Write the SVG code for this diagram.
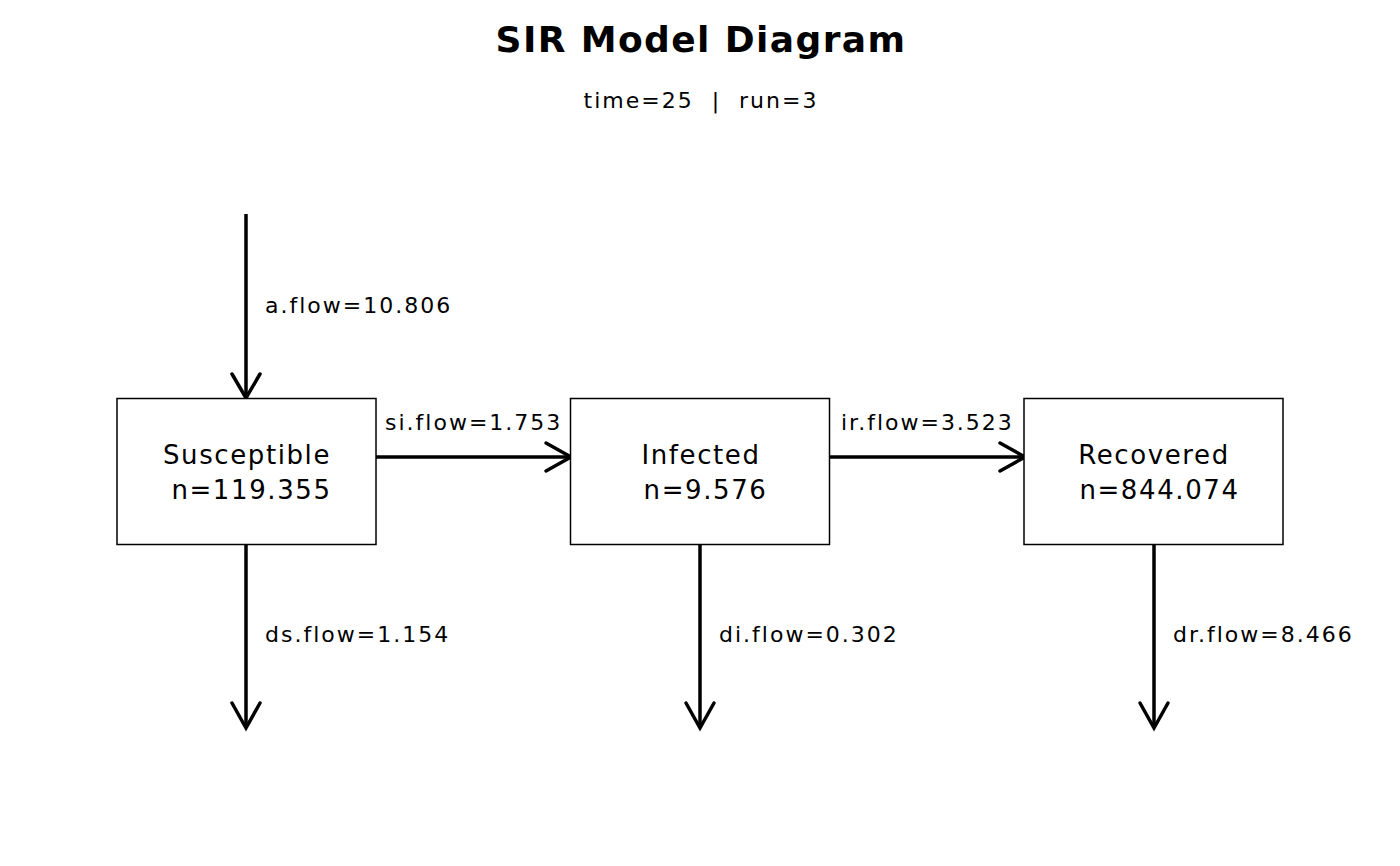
<svg xmlns="http://www.w3.org/2000/svg" width="1400" height="866" viewBox="0 0 1400 866">
<style>
text{font-family:"DejaVu Sans",sans-serif;fill:#000}
.title{font-size:36px;font-weight:bold;text-anchor:middle;letter-spacing:1.4px}
.sub{font-size:22px;text-anchor:middle;letter-spacing:2px}
.node rect{fill:#fff;stroke:#000;stroke-width:1.5}
.node text{font-size:26px;text-anchor:middle;letter-spacing:1.6px}
.edge{fill:none;stroke:#000;stroke-width:3.5}
.head{fill:none;stroke:#000;stroke-width:3.5;stroke-linecap:round;stroke-linejoin:miter}
.lbl{font-size:22px;letter-spacing:2px}
</style>
<rect width="1400" height="866" fill="#fff"/>
<text class="title" x="701" y="52">SIR Model Diagram</text>
<text class="sub" x="701" y="108" xml:space="preserve">time=25  |  run=3</text>
<g id="connectors">
<line class="edge" x1="246" y1="214" x2="246" y2="398"/>
<polyline class="head" points="232,374 246,398 260,374"/>
<line class="edge" x1="376" y1="457" x2="571" y2="457"/>
<polyline class="head" points="546,443 571,457 546,471"/>
<line class="edge" x1="829" y1="457" x2="1025" y2="457"/>
<polyline class="head" points="1000,443 1025,457 1000,471"/>
<line class="edge" x1="246" y1="544" x2="246" y2="728"/>
<polyline class="head" points="232,703 246,728 260,703"/>
<line class="edge" x1="700" y1="544" x2="700" y2="728"/>
<polyline class="head" points="686,703 700,728 714,703"/>
<line class="edge" x1="1154" y1="544" x2="1154" y2="728"/>
<polyline class="head" points="1140,703 1154,728 1168,703"/>
<text class="lbl" x="265" y="313">a.flow=10.806</text>
<text class="lbl" x="385" y="430">si.flow=1.753</text>
<text class="lbl" x="841" y="430">ir.flow=3.523</text>
<text class="lbl" x="265" y="642">ds.flow=1.154</text>
<text class="lbl" x="719" y="642">di.flow=0.302</text>
<text class="lbl" x="1173" y="642">dr.flow=8.466</text>
</g>
<g id="susceptible" class="node">
<rect x="117" y="398.5" width="259" height="146"/>
<text x="247" y="464">Susceptible</text>
<text x="251.5" y="499">n=119.355</text>
</g>
<g id="infected" class="node">
<rect x="570.5" y="398.5" width="259" height="146"/>
<text x="701" y="464">Infected</text>
<text x="705.5" y="499">n=9.576</text>
</g>
<g id="recovered" class="node">
<rect x="1024" y="398.5" width="259" height="146"/>
<text x="1154" y="464">Recovered</text>
<text x="1159.5" y="499">n=844.074</text>
</g>
</svg>
